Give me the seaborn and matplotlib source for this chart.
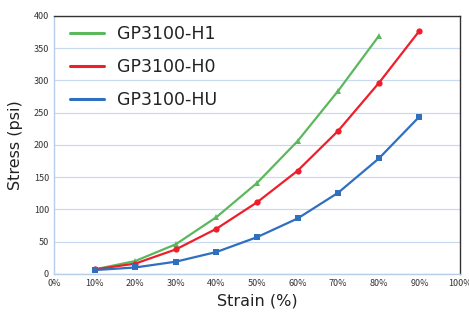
import matplotlib
matplotlib.use("Agg")
import matplotlib.pyplot as plt
from matplotlib.lines import Line2D
from matplotlib.ticker import MultipleLocator, PercentFormatter
import seaborn as sns

# data
strain_h1 = [10, 20, 30, 40, 50, 60, 70, 80]
stress_h1 = [7, 20, 46, 88, 141, 206, 284, 369]
strain_h0 = [10, 20, 30, 40, 50, 60, 70, 80, 90]
stress_h0 = [7, 16, 38, 70, 111, 160, 222, 296, 377]
strain_hu = [10, 20, 30, 40, 50, 60, 70, 80, 90]
stress_hu = [6, 10, 19, 34, 57, 86, 126, 179, 244]
names = ["GP3100-H1", "GP3100-H0", "GP3100-HU"]
colors = ["#5cb85c", "#ee1f2b", "#2f6fc0"]

sns.set_style("white")
plt.rcParams["font.family"] = ["DejaVu Sans"]

fig = plt.figure(figsize=(4.69, 3.12), dpi=100)
ax = fig.add_axes([0.115, 0.122, 0.866, 0.827])

sns.lineplot(x=strain_h1, y=stress_h1, color=colors[0], marker="^", markersize=5,
             markeredgewidth=0, linewidth=1.6, ax=ax)
sns.lineplot(x=strain_h0, y=stress_h0, color=colors[1], marker="o", markersize=4.5,
             markeredgewidth=0, linewidth=1.6, ax=ax)
sns.lineplot(x=strain_hu, y=stress_hu, color=colors[2], marker="s", markersize=5,
             markeredgewidth=0, linewidth=1.6, ax=ax)

ax.set_xlim(0, 100)
ax.set_ylim(0, 400)
ax.xaxis.set_major_locator(MultipleLocator(10))
ax.xaxis.set_minor_locator(MultipleLocator(2))
ax.yaxis.set_major_locator(MultipleLocator(50))
ax.yaxis.set_minor_locator(MultipleLocator(10))
ax.xaxis.set_major_formatter(PercentFormatter(decimals=0))
ax.yaxis.grid(True, color="#c9daf0", linewidth=0.9)
ax.set_axisbelow(True)

tick_col = "#b8cde8"
ax.tick_params(axis="both", which="both", direction="in", colors=tick_col,
               labelcolor="#333333", labelsize=6.5, length=3, width=0.6)
ax.tick_params(axis="both", which="minor", length=2)
for lab in ax.get_xticklabels() + ax.get_yticklabels():
    lab.set_family(["Noto Sans CJK JP", "DejaVu Sans"])

ax.spines["left"].set_color(tick_col)
ax.spines["bottom"].set_color(tick_col)
ax.spines["top"].set_color("#333333")
ax.spines["right"].set_color("#333333")
for sp in ax.spines.values():
    sp.set_linewidth(1.0)

ax.set_xlabel("Strain (%)", fontsize=11.5, color="#222222", labelpad=4)
ax.set_ylabel("Stress (psi)", fontsize=11.5, color="#222222", labelpad=8)

handles = [Line2D([], [], color=c, linewidth=2.2) for c in colors]
ax.legend(handles, names, loc="upper left", bbox_to_anchor=(0.0, 1.025), frameon=False,
          fontsize=12.5, handlelength=2.0, handletextpad=0.75, labelspacing=0.85,
          labelcolor="#222222")

fig.savefig("out.png", dpi=100)
